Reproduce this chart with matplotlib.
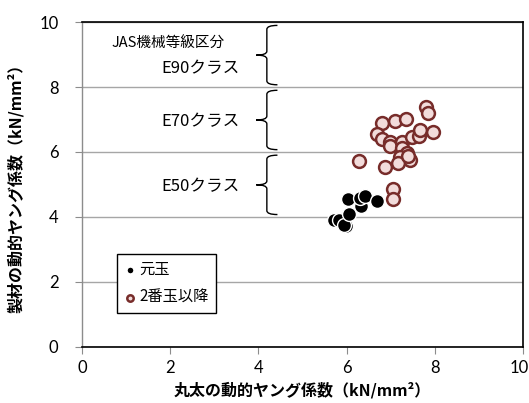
import matplotlib
matplotlib.use("Agg")
import matplotlib.pyplot as plt
import matplotlib.transforms as mtransforms
from matplotlib.path import Path
from matplotlib.patches import PathPatch

plt.rcParams['font.family'] = ['Noto Sans CJK JP', 'DejaVu Sans']

# 元玉
moto_x = [5.71, 5.83, 5.99, 5.93, 6.06, 6.04, 6.33, 6.30, 6.42, 6.68]
moto_y = [3.89, 3.89, 3.71, 3.76, 4.10, 4.56, 4.33, 4.59, 4.64, 4.48]

# 2番玉以降
ban2_x = [7.79, 7.84, 6.80, 7.10, 7.34, 6.68, 6.80, 6.98, 6.97, 7.25, 7.25, 7.48,
          7.63, 7.66, 7.95, 7.36, 7.20, 7.44, 7.17, 6.27, 6.86, 7.04, 7.05, 7.40]
ban2_y = [7.37, 7.19, 6.89, 6.95, 7.00, 6.55, 6.39, 6.31, 6.19, 6.31, 6.11, 6.46,
          6.50, 6.68, 6.62, 5.98, 5.83, 5.75, 5.65, 5.72, 5.54, 4.85, 4.56, 5.88]

# 等級区分 (下限, 上限, ラベル)
grade_lo = [4, 6, 8]
grade_hi = [6, 8, 10]
grade_labels = ["E50クラス", "E70クラス", "E90クラス"]

fig = plt.figure(figsize=(5.29, 4.03), dpi=100)
ax = fig.add_axes([0.155, 0.140, 0.834, 0.805])

ax.set_xlim(0, 10)
ax.set_ylim(0, 10)
ax.set_xticks([0, 2, 4, 6, 8, 10])
ax.set_yticks([0, 2, 4, 6, 8, 10])
ax.yaxis.grid(True, color="#a6a6a6", linewidth=1)
ax.set_axisbelow(True)

for s in ["top", "right", "bottom"]:
    ax.spines[s].set_color("black")
    ax.spines[s].set_linewidth(1.2)
ax.spines["left"].set_color("#8c8c8c")
ax.spines["left"].set_linewidth(1)
ax.tick_params(direction="out", length=5, color="#8c8c8c", labelsize=12)
ax.tick_params(axis="y", pad=12)
ax.tick_params(axis="x", pad=5)
for lab in ax.get_xticklabels() + ax.get_yticklabels():
    lab.set_family(["Lato", "DejaVu Sans"])
# 右端の「10」がはみ出さないように少しずらす
last = ax.get_xticklabels()[-1]
last.set_transform(last.get_transform() +
                   mtransforms.ScaledTranslation(-3 / 72, 0, fig.dpi_scale_trans))

ax.scatter(moto_x, moto_y, s=100, c="black", edgecolors="white", linewidths=1.0,
           zorder=3, label="元玉")
ax.scatter(ban2_x, ban2_y, s=85, c="#f2dcdb", edgecolors="#772c2a", linewidths=1.8,
           zorder=3, label="2番玉以降")

# 中括弧
xv, dx, dy = 4.19, 0.24, 0.12
for lo, hi, lab in zip(grade_lo, grade_hi, grade_labels):
    y0 = lo + 0.07
    y1 = hi - 0.1
    ym = (y0 + y1) / 2
    verts = [(xv + dx, y1), (xv, y1), (xv, y1 - dy),
             (xv, ym + dy), (xv, ym), (xv - dx, ym),
             (xv, ym), (xv, ym - dy),
             (xv, y0 + dy), (xv, y0), (xv + dx, y0)]
    codes = [Path.MOVETO, Path.CURVE3, Path.CURVE3,
             Path.LINETO, Path.CURVE3, Path.CURVE3,
             Path.CURVE3, Path.CURVE3,
             Path.LINETO, Path.CURVE3, Path.CURVE3]
    ax.add_patch(PathPatch(Path(verts, codes), fill=False, edgecolor="black",
                           linewidth=1.0, zorder=4))
    ax.text(3.58, ym - 0.05 if lo < 8 else 8.56, lab, ha="right", va="center",
            fontsize=12, zorder=4)

ax.text(0.68, 9.33, "JAS機械等級区分", ha="left", va="center", fontsize=10.5, zorder=4)

leg = ax.legend(loc="upper left", bbox_to_anchor=(0.08, 0.285), fontsize=11,
                frameon=True, fancybox=False, edgecolor="black", framealpha=1,
                markerscale=0.5, handletextpad=0.2, borderpad=0.45,
                labelspacing=0.7, handlelength=0.8, borderaxespad=0)
leg.get_frame().set_linewidth(1)

ax.set_xlabel("丸太の動的ヤング係数（kN/mm²）", fontsize=11.5, fontweight="bold", labelpad=4)
ax.set_ylabel("製材の動的ヤング係数（kN/mm²）", fontsize=11.5, fontweight="bold", labelpad=11)

fig.savefig("out.png", dpi=100)
